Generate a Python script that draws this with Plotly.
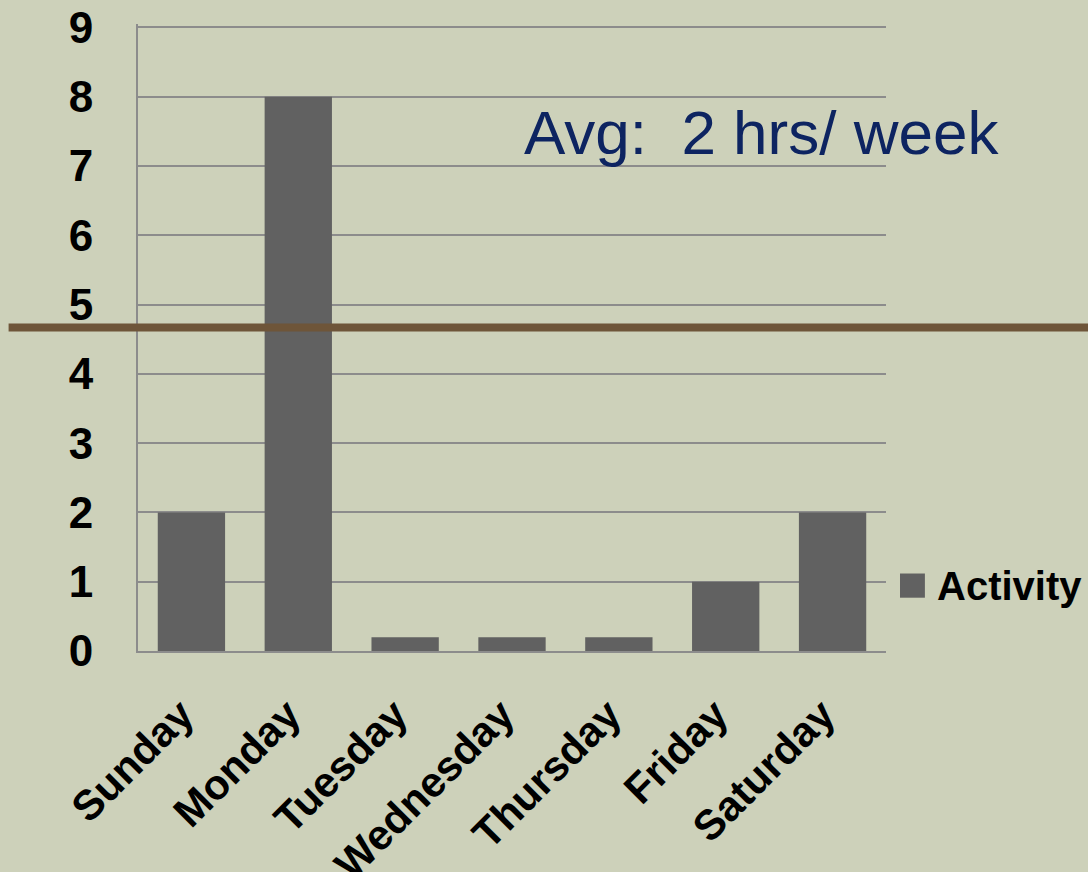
import plotly.graph_objects as go

days = ["Sunday", "Monday", "Tuesday", "Wednesday", "Thursday", "Friday", "Saturday"]
activity = [2, 8, 0.2, 0.2, 0.2, 1, 2]
avg_line_level = 4.67
y_ticks = list(range(0, 10))
series_name = "Activity"

bg = "#CDD1BA"
bar_color = "#616161"
grid_color = "#8C8C8C"
label_font = "Liberation Sans, Arial, sans-serif"

fig = go.Figure()
fig.add_trace(go.Bar(
    x=days, y=activity, name=series_name,
    marker=dict(color=bar_color, line=dict(width=0)),
    showlegend=False,
))

# horizontal reference line running across the whole slide
fig.add_shape(type="line", xref="paper", yref="y",
              x0=-0.173, x1=1.3, y0=avg_line_level, y1=avg_line_level,
              line=dict(color="#6E5539", width=8), layer="above")

fig.add_annotation(text="Avg:  2 hrs/ week", xref="paper", yref="y",
                   x=0.834, y=7.48, xanchor="center", yanchor="middle", showarrow=False,
                   font=dict(family=label_font, size=62, color="#0D2461"))

# series key to the right of the plot
fig.add_shape(type="rect", xref="paper", yref="paper",
              x0=1.0187, x1=1.052, y0=0.085, y1=0.1236,
              fillcolor=bar_color, line=dict(width=0))
fig.add_annotation(text=series_name, xref="paper", yref="paper",
                   x=1.066, y=0.104, xanchor="left", yanchor="middle", showarrow=False,
                   font=dict(family=label_font, size=40, color="black", weight="bold"))

fig.update_layout(
    width=1088, height=872,
    paper_bgcolor=bg, plot_bgcolor=bg,
    margin=dict(l=138, r=202, t=24, b=221),
    bargap=0.37,
    showlegend=False,
    font=dict(family=label_font, color="black"),
    xaxis=dict(
        automargin=False,
        tickangle=-45,
        tickfont=dict(size=42, family=label_font, weight="bold"),
        showline=True, linecolor=grid_color, linewidth=2,
        showgrid=False,
        ticks="outside", ticklen=20, tickcolor="rgba(0,0,0,0)",
        ticklabelshift=-10,
    ),
    yaxis=dict(
        automargin=False,
        range=[0, 9.05], tickvals=y_ticks,
        tickfont=dict(size=44, family=label_font, weight="bold"),
        showgrid=True, gridcolor=grid_color, gridwidth=2,
        showline=True, linecolor=grid_color, linewidth=2,
        ticks="outside", ticklen=34, tickcolor="rgba(0,0,0,0)",
        zeroline=False,
    ),
)

fig.write_html("out.html")
